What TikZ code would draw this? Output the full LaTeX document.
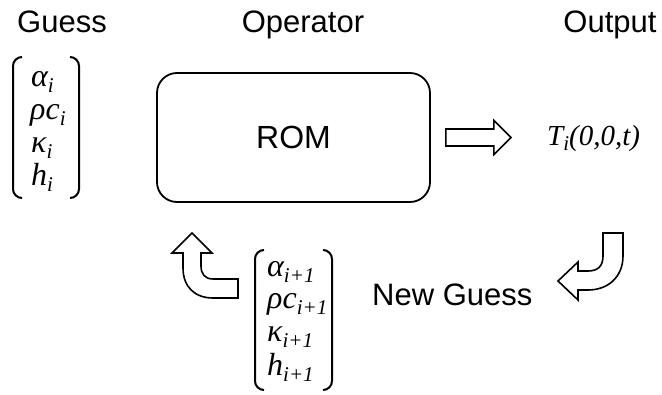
\documentclass[tikz,border=0pt]{standalone}
\usepackage{fontspec}
\setmainfont{Liberation Sans}
\newfontfamily\tnr{Liberation Serif}

\newcommand\lowsub[1]{\raisebox{-0.2em}[0pt][0pt]{\fontsize{21}{21}\selectfont #1}}
\newcommand\entry[2]{{\tnr\itshape\fontsize{32}{36}\selectfont #1\lowsub{#2}}}

\tikzset{
  titulo/.style={anchor=base, font=\fontsize{31}{37}\selectfont},
  colchete/.style={line width=2pt, rounded corners=9pt},
  seta/.style={line width=1.6pt, line join=miter, fill=white},
  valor/.style={anchor=base west, inner sep=0pt}
}

\begin{document}
\begin{tikzpicture}[x=1pt, y=-1pt]
\useasboundingbox (0,0) rectangle (662,394);

% Títulos das colunas
\node[titulo] (guess) at (62,32) {Guess};
\node[titulo] (operator) at (303,32) {Operator};
\node[titulo] (output) at (610,32) {Output};

% Vetor de palpite inicial
\draw[colchete] (22,57) -- (13,57) -- (13,198) -- (22,198);
\draw[colchete] (70,57) -- (79,57) -- (79,198) -- (70,198);
\node[valor] (g1) at (31,86) {\entry{α}{i}};
\node[valor] (g2) at (30,119) {\entry{ρc}{i}};
\node[valor] (g3) at (31,152) {\entry{κ}{i}};
\node[valor] (g4) at (31,185) {\entry{h}{i}};

% Operador
\node[draw, line width=1.8pt, rounded corners=20pt, minimum width=273pt,
  minimum height=129pt, font=\fontsize{32}{38}\selectfont] (rom) at (293.5,137.5) {ROM};

% Seta para a saída
\draw[seta] (rom.east) ++(15,-8.5) -- ++(48,0) -- ++(0,-8.5) -- ++(17,17)
  -- ++(-17,17) -- ++(0,-8.5) -- ++(-48,0) -- cycle;

% Saída
\node[anchor=base west, inner sep=0pt, font=\tnr\itshape\fontsize{29}{34}\selectfont]
  (temp) at (547,145) {T\lowsub{i}(0,0,t)};

% Seta curva para o novo palpite
\draw[seta] (558,281) -- (578,262) -- (578,271) -- (588,271)
  .. controls (598,271) and (603,266) .. (603,256) -- (603,233) -- (623,233)
  -- (623,256) .. controls (623,277) and (608,290) .. (588,290)
  -- (578,290) -- (578,300) -- cycle;

\node[anchor=base west, inner sep=0pt, font=\fontsize{31}{37}\selectfont]
  (new) at (372,305) {New Guess};

% Vetor do novo palpite
\draw[colchete] (264,250) -- (255,250) -- (255,390) -- (264,390);
\draw[colchete] (323,250) -- (332,250) -- (332,390) -- (323,390);
\node[valor] (n1) at (267,276) {\entry{α}{i+1}};
\node[valor] (n2) at (267,308) {\entry{ρc}{i+1}};
\node[valor] (n3) at (267,341) {\entry{κ}{i+1}};
\node[valor] (n4) at (267,375) {\entry{h}{i+1}};

% Seta curva de volta ao operador
\draw[seta] (192,233) -- (212,253) -- (201,253) -- (201,266)
  .. controls (201,274) and (205,279) .. (213,279) -- (238,279) -- (238,298)
  -- (213,298) .. controls (195,298) and (183,287) .. (183,268)
  -- (183,253) -- (172,253) -- cycle;

\end{tikzpicture}
\end{document}
